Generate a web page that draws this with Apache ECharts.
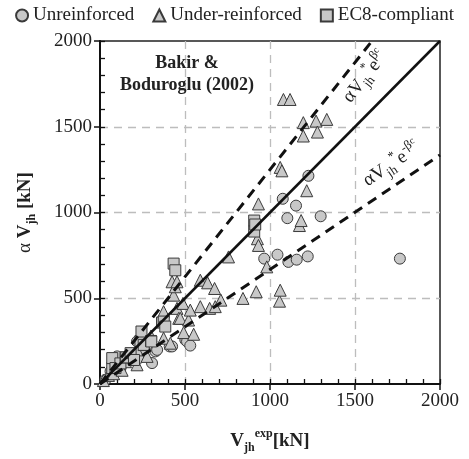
<!doctype html>
<html>
<head>
<meta charset="UTF-8">
<title>Bakir & Boduroglu (2002)</title>
<script src="https://cdn.jsdelivr.net/npm/echarts@6/dist/echarts.min.js"></script>
<style>
  html, body { margin: 0; padding: 0; background: #fff; }
  #chart { width: 469px; height: 459px; }
</style>
</head>
<body>
<div id="chart"></div>
<script>
// data, [V_jh^exp, alpha*V_jh] in kN
var unreinforced = [
  [32,25],[62,74],[101,161],[120,90],[130,120],[160,140],[180,170],[228,151],[218,248],
  [260,200],[306,122],[326,190],[336,199],[410,219],[424,219],[502,257],[512,248],[531,224],
  [966,731],[1044,754],[1108,712],[1157,725],[1222,744],[1102,967],[1153,1040],[1075,1080],
  [1226,1214],[1298,978],[1764,731]
];
var underReinforced = [
  [20,20],[50,50],[80,60],[100,100],[130,80],[150,130],[200,150],[218,199],[218,112],[277,161],
  [260,230],[300,280],[374,267],[374,422],[414,238],[424,596],[433,518],[443,567],[453,596],
  [453,441],[463,383],[472,383],[488,470],[492,300],[521,373],[531,431],[551,290],[590,451],
  [590,605],[633,590],[645,441],[674,557],[678,451],[711,489],[756,741],[841,499],[919,538],
  [926,847],[932,808],[932,1050],[981,683],[1056,483],[1060,547],[1060,1263],[1070,1243],
  [1079,1659],[1118,1659],[1173,924],[1183,953],[1196,1446],[1196,1524],[1216,1127],
  [1271,1533],[1279,1469],[1334,1543]
];
var ec8Compliant = [
  [72,93],[72,151],[91,93],[120,120],[150,155],[154,155],[180,180],[200,140],[238,251],
  [244,306],[257,228],[300,251],[302,248],[365,358],[375,364],[384,335],[433,702],[443,663],
  [907,953],[907,889],[913,930]
];
// reference lines
var unityLine = [[0,0],[2000,2000]];
var upperLine = [[0,0],[1600,2000]];
var lowerLine = [[0,0],[2000,1335]];
var upperLabelAt = [1560, 1790];
var lowerLabelAt = [1715, 1280];
var ticks = [0, 500, 1000, 1500, 2000];

var serif = '"Liberation Serif", "DejaVu Serif", serif';
var markFill = '#c8c8c8';
var markEdge = '#3a3a3a';

var chart = echarts.init(document.getElementById('chart'));

function baseAxis(extra) {
  var a = {
    type: 'value', min: 0, max: 2000, interval: 500,
    axisLine: { show: true, onZero: false, lineStyle: { color: '#111', width: 2 } },
    axisTick: { show: true, inside: false, length: 6, lineStyle: { color: '#111', width: 1.5 } },
    axisLabel: { show: true, color: '#222', fontFamily: serif, fontSize: 19, margin: 8,
      formatter: function (v) { return ticks.indexOf(v) >= 0 ? String(v) : ''; } },
    splitLine: { show: true, showMinLine: false, showMaxLine: false,
      lineStyle: { color: '#bdbdbd', width: 1.3, type: [8, 6] } }
  };
  for (var k in extra) a[k] = extra[k];
  return a;
}
function minorAxis(pos) {
  return {
    type: 'value', min: 0, max: 2000, interval: 100, position: pos, offset: 0,
    axisLine: { show: false },
    axisTick: { show: true, inside: true, length: 5, lineStyle: { color: '#111', width: 1.3 } },
    axisLabel: { show: false },
    splitLine: { show: false }
  };
}

var markerStyle = { color: markFill, borderColor: markEdge, borderWidth: 1, opacity: 1 };

chart.setOption({
  animation: false,
  backgroundColor: '#fff',
  grid: { left: 100, right: 29, top: 41, bottom: 73, show: true,
    borderColor: '#222', borderWidth: 1.5, backgroundColor: 'transparent' },
  legend: {
    top: 1, left: 'center', itemGap: 18, itemWidth: 12, itemHeight: 12,
    textStyle: { fontFamily: serif, fontSize: 19, color: '#222' },
    data: ['Unreinforced', 'Under-reinforced', 'EC8-compliant']
  },
  xAxis: [
    baseAxis({
      position: 'bottom',
      name: '{b|V}{s|jh}{p|exp}{b|[kN]}',
      nameLocation: 'middle', nameGap: 44,
      nameTextStyle: {
        rich: {
          b: { fontFamily: serif, fontWeight: 'bold', fontSize: 19, color: '#222', lineHeight: 26 },
          s: { fontFamily: serif, fontWeight: 'bold', fontSize: 12, color: '#222', verticalAlign: 'bottom', lineHeight: 14 },
          p: { fontFamily: serif, fontWeight: 'bold', fontSize: 12, color: '#222', verticalAlign: 'top', lineHeight: 14 }
        }
      }
    }),
    minorAxis('bottom')
  ],
  yAxis: [
    baseAxis({
      position: 'left',
      name: '{a|α }{b|V}{s|jh}{b| [kN]}',
      nameLocation: 'middle', nameGap: 62, nameRotate: 90,
      nameTextStyle: {
        rich: {
          a: { fontFamily: serif, fontSize: 19, color: '#222', lineHeight: 26 },
          b: { fontFamily: serif, fontWeight: 'bold', fontSize: 19, color: '#222', lineHeight: 26 },
          s: { fontFamily: serif, fontWeight: 'bold', fontSize: 12, color: '#222', verticalAlign: 'bottom', lineHeight: 14 }
        }
      }
    }),
    minorAxis('left')
  ],
  series: [
    { name: 'Unreinforced', type: 'scatter', symbol: 'circle', symbolSize: 11,
      itemStyle: markerStyle, data: unreinforced, z: 3 },
    { name: 'Under-reinforced', type: 'scatter', symbol: 'triangle', symbolSize: 12,
      itemStyle: markerStyle, data: underReinforced, z: 3 },
    { name: 'EC8-compliant', type: 'scatter', symbol: 'rect', symbolSize: 11,
      itemStyle: markerStyle, data: ec8Compliant, z: 3 },
    { type: 'line', data: unityLine, symbol: 'none', silent: true, z: 4,
      lineStyle: { color: '#111', width: 2.5 } },
    { type: 'line', data: upperLine, symbol: 'none', silent: true, z: 4,
      lineStyle: { color: '#111', width: 3, type: [10, 7] } },
    { type: 'line', data: lowerLine, symbol: 'none', silent: true, z: 4,
      lineStyle: { color: '#111', width: 3, type: [10, 7] } }
  ]
});

// line labels and the study title
var labelRich = {
  a: { fontFamily: serif, fontSize: 19, fill: '#222', lineHeight: 26 },
  s: { fontFamily: serif, fontSize: 13, fill: '#222', verticalAlign: 'bottom', lineHeight: 14 },
  p: { fontFamily: serif, fontSize: 13, fill: '#222', verticalAlign: 'top', lineHeight: 14 },
  q: { fontFamily: serif, fontSize: 10, fill: '#222', verticalAlign: 'top', lineHeight: 20 }
};
var pu = chart.convertToPixel({ gridIndex: 0 }, upperLabelAt);
var pl = chart.convertToPixel({ gridIndex: 0 }, lowerLabelAt);
var p0 = chart.convertToPixel({ gridIndex: 0 }, [0, 0]);
var p1 = chart.convertToPixel({ gridIndex: 0 }, upperLine[1]);
var p2 = chart.convertToPixel({ gridIndex: 0 }, lowerLine[1]);
var angU = Math.atan2(p0[1] - p1[1], p1[0] - p0[0]);
var angL = Math.atan2(p0[1] - p2[1], p2[0] - p0[0]);

chart.setOption({
  graphic: [
    { type: 'text', x: pu[0], y: pu[1], rotation: angU, z: 10,
      style: { text: '{a|αV}{s|jh}{p|*}{a|e}{p|β}{q|c}', rich: labelRich,
        align: 'center', verticalAlign: 'middle' } },
    { type: 'text', x: pl[0], y: pl[1], rotation: angL, z: 10,
      style: { text: '{a|αV}{s|jh}{p|*}{a|e}{p|-β}{q|c}', rich: labelRich,
        align: 'center', verticalAlign: 'middle' } },
    { type: 'text', x: 187, y: 74, z: 10,
      style: { text: 'Bakir &\nBoduroglu (2002)', fontFamily: serif, fontWeight: 'bold',
        fontSize: 18, lineHeight: 22, fill: '#222', align: 'center', verticalAlign: 'middle' } }
  ]
});
</script>
</body>
</html>
